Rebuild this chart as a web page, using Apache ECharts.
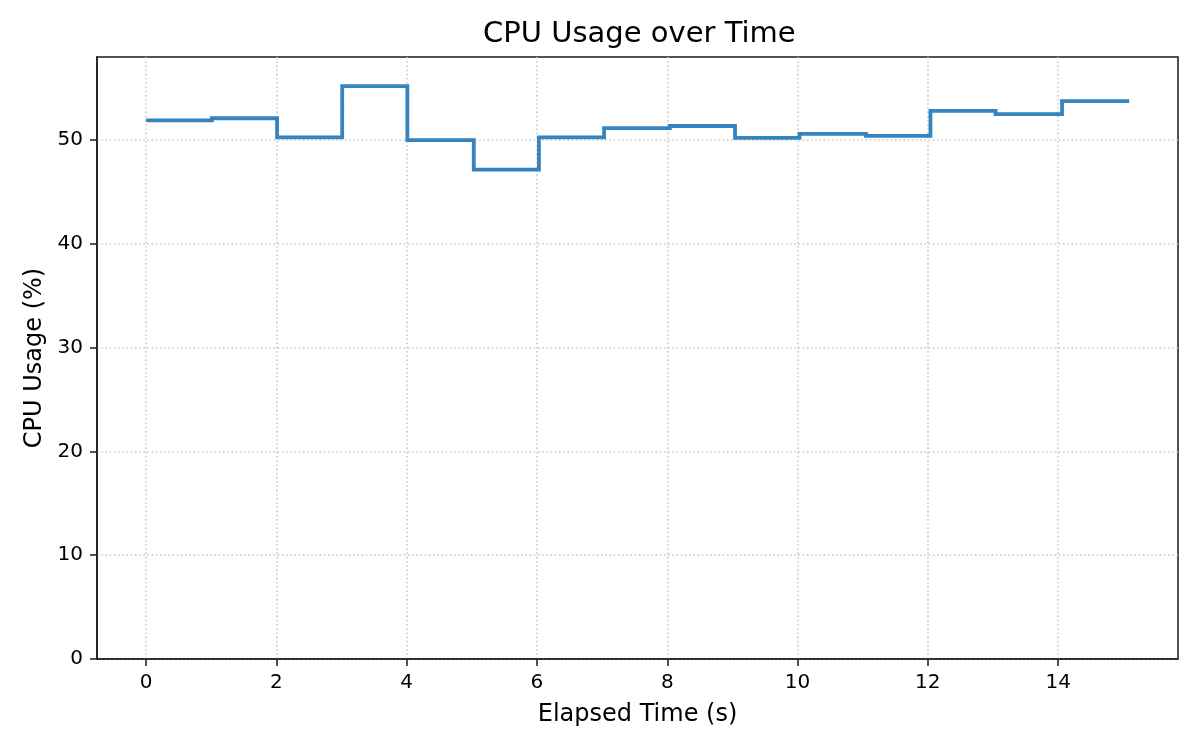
<!DOCTYPE html>
<html>

<head>
    <meta charset="utf-8">
    <title>CPU Usage over Time</title>
    <script src="https://cdn.jsdelivr.net/npm/echarts@6.0.0/dist/echarts.min.js"></script>
    <style>
        html, body {
            margin: 0;
            padding: 0;
            background: #ffffff;
        }

        #main {
            width: 1200px;
            height: 750px;
        }
    </style>
</head>

<body>
    <div id="main"></div>
    <script>
        // sample times (s) and cpu usage (%)
        var timeSec = [0, 1.01, 2.01, 3.01, 4.01, 5.03, 6.03, 7.03, 8.04, 9.04, 10.03, 11.05, 12.04, 13.04, 14.06, 15.09];
        var cpuPct = [51.9, 52.1, 50.25, 55.2, 50.0, 47.15, 50.25, 51.15, 51.35, 50.2, 50.6, 50.4, 52.8, 52.5, 53.75, 53.75];

        // tick labels
        var xTicks = [0, 2, 4, 6, 8, 10, 12, 14];
        var yTicks = [0, 10, 20, 30, 40, 50];

        var font = 'DejaVu Sans';
        var spine = { color: '#1a1a1a', width: 1.5 };

        var points = [];
        for (var i = 0; i < timeSec.length; i++) {
            points.push([timeSec[i], cpuPct[i]]);
        }

        var myChart = echarts.init(document.getElementById('main'), null, { renderer: 'canvas' });

        var option = {
            backgroundColor: '#ffffff',
            animation: false,
            title: {
                text: 'CPU Usage over Time',
                left: 483,
                top: 20,
                padding: 0,
                textStyle: {
                    fontFamily: font,
                    fontSize: 29,
                    fontWeight: 'normal',
                    color: '#000000'
                }
            },
            grid: {
                left: 97,
                right: 22,
                top: 57,
                bottom: 91,
                show: true,
                borderColor: '#1a1a1a',
                borderWidth: 1.5,
                outerBoundsMode: 'none'
            },
            xAxis: {
                type: 'value',
                min: -0.754,
                max: 15.84,
                name: 'Elapsed Time (s)',
                nameLocation: 'middle',
                nameGap: 44,
                nameTextStyle: { fontFamily: font, fontSize: 24, color: '#000000' },
                axisLine: { show: true, onZero: false, lineStyle: spine },
                axisTick: {
                    show: true,
                    inside: false,
                    length: 7,
                    customValues: xTicks,
                    lineStyle: spine
                },
                axisLabel: {
                    customValues: xTicks,
                    margin: 14,
                    fontFamily: font,
                    fontSize: 20,
                    color: '#000000'
                },
                splitLine: {
                    show: true,
                    lineStyle: { color: '#c8c8c8', width: 1.6, type: [1.6, 2.6] }
                }
            },
            yAxis: {
                type: 'value',
                min: 0,
                max: 58,
                name: 'CPU Usage (%)',
                nameLocation: 'middle',
                nameGap: 50,
                nameTextStyle: { fontFamily: font, fontSize: 24, color: '#000000' },
                axisLine: { show: true, onZero: false, lineStyle: spine },
                axisTick: {
                    show: true,
                    inside: false,
                    length: 7,
                    customValues: yTicks,
                    lineStyle: spine
                },
                axisLabel: {
                    customValues: yTicks,
                    margin: 14,
                    fontFamily: font,
                    fontSize: 20,
                    color: '#000000'
                },
                splitLine: {
                    show: true,
                    lineStyle: { color: '#c8c8c8', width: 1.6, type: [1.6, 2.6] }
                }
            },
            series: [{
                type: 'line',
                step: 'end',
                data: points,
                showSymbol: false,
                symbol: 'none',
                lineStyle: { color: '#3584bf', width: 3.8, join: 'miter' },
                itemStyle: { color: '#3584bf' }
            }]
        };

        myChart.setOption(option);
    </script>
</body>

</html>
